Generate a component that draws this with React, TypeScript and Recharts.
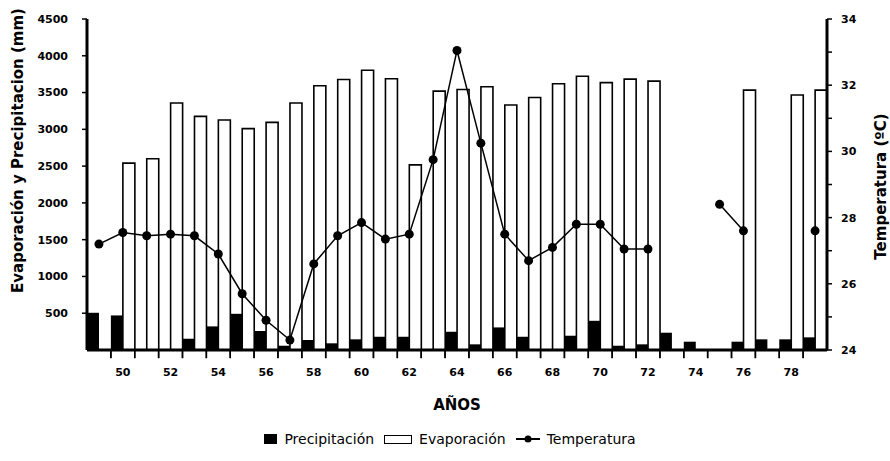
import React from 'react';
import { ComposedChart, Bar, Line, Scatter, XAxis, YAxis, Legend, Label, ReferenceLine } from 'recharts';

// años 1949 - 1979
const years = [49, 50, 51, 52, 53, 54, 55, 56, 57, 58, 59, 60, 61, 62, 63, 64, 65, 66, 67, 68, 69, 70, 71, 72, 73, 74, 75, 76, 77, 78, 79];
// precipitación (mm)
const precip = [506, 470, 0, 0, 153, 321, 492, 258, 58, 136, 91, 145, 180, 180, 0, 248, 77, 307, 180, 0, 194, 397, 58, 77, 235, 113, null, 113, 145, 145, 172];
// evaporación (mm)
const evap = [null, 2540, 2600, 3357, 3176, 3127, 3009, 3095, 3357, 3592, 3678, 3804, 3687, 2517, 3520, 3542, 3578, 3330, 3433, 3619, 3721, 3635, 3683, 3656, null, null, null, 3533, null, 3466, 3533];
// temperatura media (ºC)
const temp = [27.2, 27.55, 27.45, 27.5, 27.45, 26.9, 25.7, 24.9, 24.3, 26.6, 27.45, 27.85, 27.35, 27.5, 29.75, 33.05, 30.25, 27.5, 26.7, 27.1, 27.8, 27.8, 27.05, 27.05, null, null, 28.4, 27.6, null, null, 27.6];

const yearTicks = [50, 52, 54, 56, 58, 60, 62, 64, 66, 68, 70, 72, 74, 76, 78];
// marcas entre años (límites de cada año)
const edgeTicks = [49.5, 50.5, 51.5, 52.5, 53.5, 54.5, 55.5, 56.5, 57.5, 58.5, 59.5, 60.5, 61.5, 62.5, 63.5, 64.5, 65.5, 66.5, 67.5, 68.5, 69.5, 70.5, 71.5, 72.5, 73.5, 74.5, 75.5, 76.5, 77.5, 78.5];
const mmTicks = [500, 1000, 1500, 2000, 2500, 3000, 3500, 4000, 4500];
const tempTicks = [24, 25, 26, 27, 28, 29, 30, 31, 32, 33, 34];

const data = years.map((year, i) => ({ year, precip: precip[i], evap: evap[i], temp: temp[i] }));
const edgeData = edgeTicks.map((e) => ({ year: e, base: 24 }));

const FONT = '"DejaVu Sans", sans-serif';
const tickStyle = { fontSize: 11, fontWeight: 700, fill: '#000', fontFamily: FONT };

// marca vertical bajo el eje
const EdgeMark = ({ cx, cy }: any) => (
  <line x1={cx} y1={cy} x2={cx} y2={cy + 8} stroke="#000" strokeWidth={1.5} />
);

const LegendContent = () => (
  <div style={{ display: 'flex', justifyContent: 'center', alignItems: 'center', fontFamily: FONT, fontSize: 14, color: '#000', paddingLeft: 10 }}>
    <span style={{ display: 'inline-block', width: 13, height: 10, background: '#000', marginRight: 7 }} />
    <span style={{ marginRight: 10 }}>Precipitación</span>
    <span style={{ display: 'inline-block', width: 26, height: 7, border: '1.5px solid #000', marginRight: 7 }} />
    <span style={{ marginRight: 10 }}>Evaporación</span>
    <svg width={24} height={10} style={{ marginRight: 7 }}>
      <line x1={0} y1={5} x2={24} y2={5} stroke="#000" strokeWidth={2} />
      <circle cx={12} cy={5} r={3.5} fill="#000" />
    </svg>
    <span>Temperatura</span>
  </div>
);

export default function App() {
  return (
    <div style={{ position: 'absolute', left: 0, top: 0, background: '#fff' }}>
      <ComposedChart
        width={890}
        height={461}
        data={data}
        margin={{ top: 19, right: 0, bottom: 41, left: 0 }}
        barCategoryGap={0}
        barGap={0}
        style={{ fontFamily: FONT }}
      >
        <XAxis
          dataKey="year"
          type="number"
          domain={[48.5, 79.5]}
          ticks={yearTicks}
          interval={0}
          tickLine={false}
          axisLine={{ stroke: '#000', strokeWidth: 3 }}
          tick={tickStyle}
          tickMargin={12}
          height={70}
        >
          <Label value="AÑOS" position="insideBottom" offset={10} style={{ fontSize: 15, fontWeight: 700, fill: '#000', fontFamily: FONT }} />
        </XAxis>
        <XAxis xAxisId="edges" dataKey="year" type="number" domain={[48.5, 79.5]} hide />
        <YAxis
          yAxisId="left"
          domain={[0, 4500]}
          ticks={mmTicks}
          width={87}
          axisLine={{ stroke: '#000', strokeWidth: 3 }}
          tickLine={{ stroke: '#000', strokeWidth: 1.5 }}
          tickSize={5}
          tickMargin={14}
          tick={tickStyle}
        >
          <Label value="Evaporación y Precipitacion (mm)" angle={-90} position="center" dx={-26} dy={-34} style={{ fontSize: 15, fontWeight: 700, fill: '#000', fontFamily: FONT, textAnchor: 'middle' }} />
        </YAxis>
        <YAxis
          yAxisId="right"
          orientation="right"
          domain={[24, 34]}
          ticks={tempTicks}
          width={63}
          axisLine={{ stroke: '#000', strokeWidth: 3 }}
          tickLine={{ stroke: '#000', strokeWidth: 1.5 }}
          tickSize={5}
          tickMargin={9}
          tick={tickStyle}
          tickFormatter={(v: number) => (v % 2 === 0 ? String(v) : '')}
        >
          <Label value="Temperatura (ºC)" angle={-90} position="center" dx={22} dy={2} style={{ fontSize: 15, fontWeight: 700, fill: '#000', fontFamily: FONT, textAnchor: 'middle' }} />
        </YAxis>
        <Legend verticalAlign="middle" layout="horizontal" content={<LegendContent />} wrapperStyle={{ top: 431, left: 0, width: 890 }} />
        <Bar dataKey="precip" name="Precipitación" yAxisId="left" fill="#000" isAnimationActive={false} />
        <Bar dataKey="evap" name="Evaporación" yAxisId="left" fill="#fff" stroke="#000" strokeWidth={1.6} isAnimationActive={false} />
        <Line
          dataKey="temp"
          name="Temperatura"
          yAxisId="right"
          type="linear"
          stroke="#000"
          strokeWidth={1.5}
          dot={{ r: 4.5, fill: '#000', stroke: '#000', strokeWidth: 0 }}
          connectNulls={false}
          isAnimationActive={false}
        />
        {/* marcas bajo el eje X entre cada año */}
        <Scatter
          data={edgeData}
          xAxisId="edges"
          yAxisId="right"
          dataKey="base"
          shape={<EdgeMark />}
          legendType="none"
          isAnimationActive={false}
        />
        {edgeTicks.map((e) => (
          <ReferenceLine
            key={e}
            yAxisId="right"
            segment={[{ x: e, y: 24 }, { x: e, y: 23.75 }]}
            ifOverflow="visible"
            stroke="#000"
            strokeWidth={1.5}
          />
        ))}
      </ComposedChart>
    </div>
  );
}
